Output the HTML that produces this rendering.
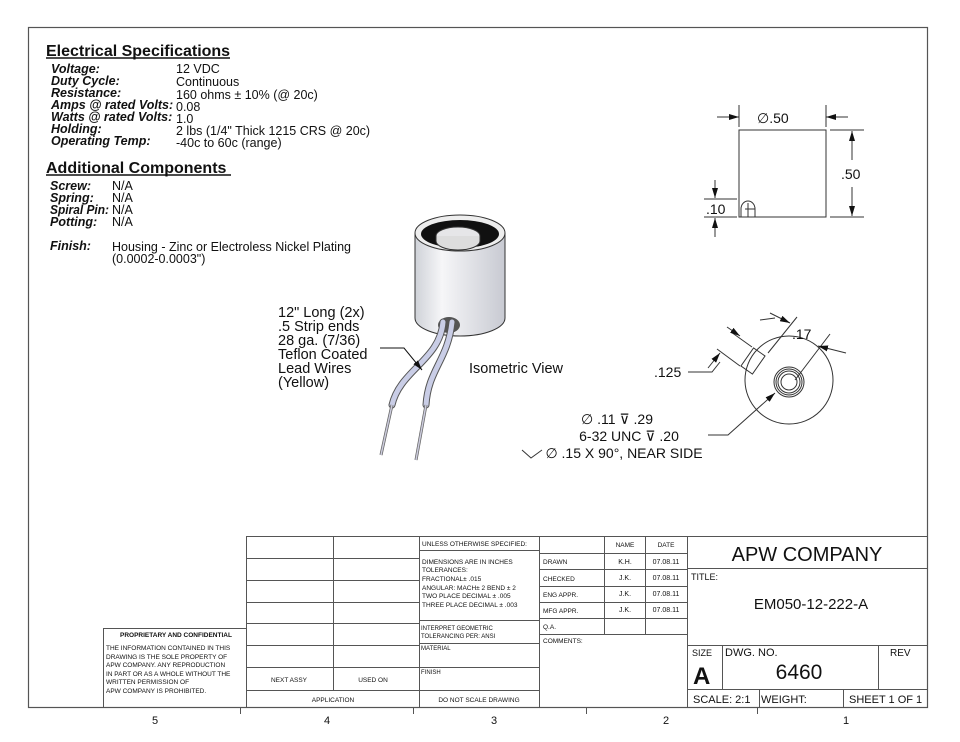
<!DOCTYPE html>
<html><head><meta charset="utf-8"><style>
html,body{margin:0;padding:0;background:#fff;}
svg{display:block;}
text{font-family:"Liberation Sans",sans-serif;fill:#111;}
.b{font-weight:bold;font-style:italic;}
.s{font-size:7px;}
.dj{font-family:"DejaVu Sans",sans-serif;}
</style></head><body>
<svg width="960" height="742" viewBox="0 0 960 742" xmlns="http://www.w3.org/2000/svg">
<defs>
<marker id="ar" markerWidth="10" markerHeight="6" refX="10" refY="3" orient="auto" markerUnits="userSpaceOnUse"><path d="M0,0 L10,3 L0,6z" fill="#111"/></marker>
<linearGradient id="cyl" x1="0" x2="1"><stop offset="0" stop-color="#cfd2d8"/><stop offset="0.3" stop-color="#f6f6f8"/><stop offset="1" stop-color="#c8cad2"/></linearGradient>
</defs>
<g fill="none" stroke="#555" stroke-width="1.2">
<rect x="28.5" y="27.5" width="899" height="680"/>
</g>
<text x="46" y="56" font-size="16" font-weight="bold">Electrical Specifications</text>
<line x1="46" y1="58" x2="230" y2="58" stroke="#111" stroke-width="1.5"/>
<g font-size="12.5">
<text class="b" x="51" y="73">Voltage:</text><text x="176" y="73">12 VDC</text>
<text class="b" x="51" y="85">Duty Cycle:</text><text x="176" y="86">Continuous</text>
<text class="b" x="51" y="97">Resistance:</text><text x="176" y="99">160 ohms ± 10% (@ 20c)</text>
<text class="b" x="51" y="109">Amps @ rated Volts:</text><text x="176" y="111">0.08</text>
<text class="b" x="51" y="121">Watts @ rated Volts:</text><text x="176" y="123">1.0</text>
<text class="b" x="51" y="133">Holding:</text><text x="176" y="135">2 lbs (1/4" Thick 1215 CRS @ 20c)</text>
<text class="b" x="51" y="145">Operating Temp:</text><text x="176" y="147">-40c to 60c (range)</text>
</g>
<text x="46" y="173" font-size="16" font-weight="bold">Additional Components</text>
<line x1="46" y1="175" x2="231" y2="175" stroke="#111" stroke-width="1.5"/>
<g font-size="12.5">
<text class="b" x="50" y="190">Screw:</text><text x="112" y="190">N/A</text>
<text class="b" x="50" y="202">Spring:</text><text x="112" y="202">N/A</text>
<text class="b" x="50" y="214" textLength="59" lengthAdjust="spacingAndGlyphs">Spiral Pin:</text><text x="112" y="214">N/A</text>
<text class="b" x="50" y="226">Potting:</text><text x="112" y="226">N/A</text>
<text class="b" x="50" y="250">Finish:</text><text x="112" y="251">Housing - Zinc or Electroless Nickel Plating</text>
<text x="112" y="263">(0.0002-0.0003")</text>
</g>
<path d="M415,233 L415,318 A45,18 0 0 0 505,318 L505,233" fill="url(#cyl)" stroke="#333" stroke-width="1"/>
<ellipse cx="460" cy="233" rx="45" ry="18" fill="#eee" stroke="#333"/>
<ellipse cx="460" cy="234" rx="39" ry="14" fill="#111"/>
<ellipse cx="458" cy="236" rx="22" ry="9" fill="#e6e6e8" stroke="#333"/>
<path d="M436,236 v5 a22,9 0 0 0 44,0 v-5" fill="#ddd" stroke="#333"/>
<ellipse cx="449" cy="325" rx="11" ry="8" fill="#555"/>
<g stroke="#555" stroke-width="7" fill="none" stroke-linecap="round">
<path d="M443,322 C440,360 400,370 392,405"/>
<path d="M452,322 C448,360 428,370 426,405"/>
</g>
<g stroke="#c9cde6" stroke-width="5" fill="none" stroke-linecap="round">
<path d="M443,322 C440,360 400,370 392,405"/>
<path d="M452,322 C448,360 428,370 426,405"/>
</g>
<g stroke="#666" stroke-width="3" fill="none"><path d="M392,405 L381,455"/><path d="M426,405 L416,460"/></g>
<g stroke="#ccd" stroke-width="1.5" fill="none"><path d="M392,405 L381,455"/><path d="M426,405 L416,460"/></g>
<g font-size="14.5">
<text x="278" y="317">12" Long (2x)</text>
<text x="278" y="331">.5 Strip ends</text>
<text x="278" y="345">28 ga. (7/36)</text>
<text x="278" y="359">Teflon Coated</text>
<text x="278" y="373">Lead Wires</text>
<text x="278" y="387">(Yellow)</text>
<text x="469" y="373">Isometric View</text>
</g>
<path d="M380,348 L404,348 L422,370" fill="none" stroke="#111" marker-end="url(#ar)"/>
<g stroke="#333" fill="none" stroke-width="1">
<rect x="739" y="130" width="87" height="87"/>
<line x1="739" y1="105" x2="739" y2="127"/><line x1="826" y1="105" x2="826" y2="127"/>
<line x1="717" y1="117" x2="739" y2="117" marker-end="url(#ar)"/>
<line x1="848" y1="117" x2="826" y2="117" marker-end="url(#ar)"/>
<line x1="830" y1="130" x2="864" y2="130"/><line x1="830" y1="217" x2="864" y2="217"/>
<line x1="852" y1="160" x2="852" y2="131" marker-end="url(#ar)"/>
<line x1="852" y1="187" x2="852" y2="216" marker-end="url(#ar)"/>
<line x1="704" y1="199" x2="737" y2="199"/><line x1="704" y1="217" x2="737" y2="217"/>
<line x1="715" y1="180" x2="715" y2="198" marker-end="url(#ar)"/>
<line x1="715" y1="237" x2="715" y2="218" marker-end="url(#ar)"/>
<path d="M741,217 v-8 a7,8 0 0 1 14,0 v8 M745,209 h10 M748,203 v14"/>
</g>
<text x="757" y="123" font-size="14">∅.50</text>
<text x="841" y="179" font-size="14">.50</text>
<text x="706" y="214" font-size="14">.10</text>
<g stroke="#333" fill="none" stroke-width="1">
<circle cx="789" cy="380" r="44"/>
<circle cx="789" cy="382" r="15"/><circle cx="789" cy="382" r="13"/><circle cx="789" cy="382" r="11"/>
<circle cx="789" cy="382" r="8"/>
<rect x="746" y="350" width="14" height="22" transform="rotate(35 753 361)"/>
<line x1="717" y1="349" x2="740" y2="366"/><line x1="731" y1="332" x2="752" y2="347"/>
<line x1="727" y1="327" x2="740" y2="336" marker-end="url(#ar)"/>
<line x1="760" y1="320" x2="775" y2="318"/>
<line x1="770" y1="313" x2="790" y2="323" marker-end="url(#ar)"/>
<line x1="768" y1="353" x2="797" y2="317"/><line x1="795" y1="380" x2="830" y2="334"/>
<line x1="846" y1="353" x2="818" y2="346" marker-end="url(#ar)"/>
<line x1="708" y1="368" x2="720" y2="353" marker-end="url(#ar)"/>
<path d="M688,372 L712,372 L720,362"/>
<path d="M708,435 L728,435 L775,393" marker-end="url(#ar)"/>
</g>
<text x="792" y="339" font-size="14">.17</text>
<text x="654" y="377" font-size="14">.125</text>
<g font-size="14" text-anchor="middle">
<text x="617" y="424">∅ .11 <tspan class="dj">⊽</tspan> .29</text>
<text x="629" y="441">6-32 UNC <tspan class="dj">⊽</tspan> .20</text>
<text x="624" y="458">∅ .15 X 90°, NEAR SIDE</text>
</g>
<path d="M522,450 L531,458 L542,450" fill="none" stroke="#333"/>
<g stroke="#555" stroke-width="1" fill="none">
<rect x="103.5" y="628.5" width="143" height="79"/>
<rect x="246.5" y="536.5" width="681" height="171"/>
<line x1="333.5" y1="536" x2="333.5" y2="690"/>
<line x1="419.5" y1="536" x2="419.5" y2="707"/>
<line x1="539.5" y1="536" x2="539.5" y2="707"/>
<line x1="604.5" y1="536" x2="604.5" y2="634"/>
<line x1="645.5" y1="536" x2="645.5" y2="634"/>
<line x1="687.5" y1="536" x2="687.5" y2="707"/>
<path d="M246,558.5H419M246,580.5H419M246,602.5H419M246,623.5H419M246,645.5H419M246,667.5H419M246,690.5H539"/>
<path d="M419,550.5H539M419,620.5H539M419,643.5H539M419,667.5H539"/>
<path d="M539,553.5H687M539,569.5H687M539,586.5H687M539,602.5H687M539,618.5H687M539,634.5H687"/>
<path d="M687,568.5H927M687,645.5H927M687,689.5H927"/>
<line x1="722.5" y1="645" x2="722.5" y2="689"/>
<line x1="878.5" y1="645" x2="878.5" y2="689"/>
<line x1="759.5" y1="689" x2="759.5" y2="707"/>
<line x1="843.5" y1="689" x2="843.5" y2="707"/>
<path d="M240.5,708v6M413.5,708v6M586.5,708v6M757.5,708v6"/>
</g>
<g class="s">
<text x="120" y="637" font-size="6.5" font-weight="bold">PROPRIETARY AND CONFIDENTIAL</text>
<text x="106" y="650" font-size="6.5">THE INFORMATION CONTAINED IN THIS</text>
<text x="106" y="659" font-size="6.5">DRAWING IS THE SOLE PROPERTY OF</text>
<text x="106" y="667" font-size="6.5">APW COMPANY.  ANY  REPRODUCTION</text>
<text x="106" y="676" font-size="6.5">IN PART OR AS A WHOLE WITHOUT THE</text>
<text x="106" y="684" font-size="6.5">WRITTEN PERMISSION OF</text>
<text x="106" y="693" font-size="6.5">APW COMPANY IS PROHIBITED.</text>
<text x="289" y="682" font-size="6.5" text-anchor="middle">NEXT ASSY</text>
<text x="373" y="682" font-size="6.5" text-anchor="middle">USED ON</text>
<text x="333" y="702" font-size="6.5" text-anchor="middle">APPLICATION</text>
<text x="479" y="702" font-size="6.5" text-anchor="middle">DO NOT SCALE DRAWING</text>
<text x="422" y="546" font-size="6.5">UNLESS OTHERWISE SPECIFIED:</text>
<text x="422" y="564" font-size="6.5">DIMENSIONS ARE IN INCHES</text>
<text x="422" y="572" font-size="6.5">TOLERANCES:</text>
<text x="422" y="581" font-size="6.5">FRACTIONAL± .015</text>
<text x="422" y="590" font-size="6.5">ANGULAR: MACH± 2   BEND ± 2</text>
<text x="422" y="598" font-size="6.5">TWO PLACE DECIMAL    ± .005</text>
<text x="422" y="607" font-size="6.5">THREE PLACE DECIMAL  ± .003</text>
<text x="421" y="630" font-size="6">INTERPRET GEOMETRIC</text>
<text x="421" y="638" font-size="6">TOLERANCING PER: ANSI</text>
<text x="421" y="650" font-size="6">MATERIAL</text>
<text x="421" y="674" font-size="6">FINISH</text>
<text x="625" y="547" font-size="6.5" text-anchor="middle">NAME</text>
<text x="666" y="547" font-size="6.5" text-anchor="middle">DATE</text>
<text x="543" y="564" font-size="6.5">DRAWN</text>
<text x="543" y="581" font-size="6.5">CHECKED</text>
<text x="543" y="597" font-size="6.5">ENG APPR.</text>
<text x="543" y="613" font-size="6.5">MFG APPR.</text>
<text x="543" y="629" font-size="6.5">Q.A.</text>
<text x="543" y="643" font-size="6.5">COMMENTS:</text>
<text x="625" y="564" font-size="7" text-anchor="middle">K.H.</text>
<text x="625" y="580" font-size="7" text-anchor="middle">J.K.</text>
<text x="625" y="596" font-size="7" text-anchor="middle">J.K.</text>
<text x="625" y="612" font-size="7" text-anchor="middle">J.K.</text>
<text x="666" y="564" font-size="7" text-anchor="middle">07.08.11</text>
<text x="666" y="580" font-size="7" text-anchor="middle">07.08.11</text>
<text x="666" y="596" font-size="7" text-anchor="middle">07.08.11</text>
<text x="666" y="612" font-size="7" text-anchor="middle">07.08.11</text>
</g>
<text x="807" y="561" font-size="20" text-anchor="middle">APW COMPANY</text>
<text x="691" y="580" font-size="9">TITLE:</text>
<text x="811" y="609" font-size="15" text-anchor="middle">EM050-12-222-A</text>
<text x="692" y="656" font-size="9">SIZE</text>
<text x="693" y="684" font-size="24" font-weight="bold">A</text>
<text x="725" y="656" font-size="11">DWG.  NO.</text>
<text x="799" y="679" font-size="21" text-anchor="middle">6460</text>
<text x="890" y="656" font-size="10">REV</text>
<text x="693" y="703" font-size="11">SCALE: 2:1</text>
<text x="761" y="703" font-size="11">WEIGHT:</text>
<text x="849" y="703" font-size="11">SHEET 1 OF 1</text>
<g font-size="11" text-anchor="middle">
<text x="155" y="724">5</text><text x="327" y="724">4</text><text x="494" y="724">3</text><text x="666" y="724">2</text><text x="846" y="724">1</text>
</g>
</svg>
</body></html>
